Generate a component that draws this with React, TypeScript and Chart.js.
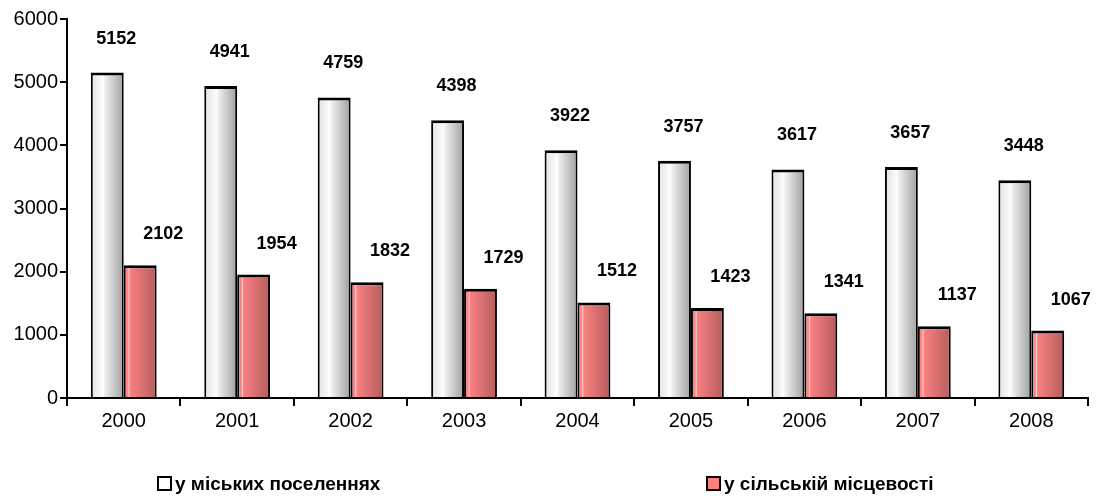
import React, { useEffect, useRef } from "react";
import { Chart, registerables } from "chart.js";

Chart.register(...registerables);

const years = ["2000", "2001", "2002", "2003", "2004", "2005", "2006", "2007", "2008"];
const urban = [5152, 4941, 4759, 4398, 3922, 3757, 3617, 3657, 3448];
const rural = [2102, 1954, 1832, 1729, 1512, 1423, 1341, 1137, 1067];
const seriesNames = ["у міських поселеннях", "у сільській місцевості"];
const yTicks = [0, 1000, 2000, 3000, 4000, 5000, 6000];

const CAT_PCT = 0.58;
const FONT = "'Liberation Sans', Arial, sans-serif";

const whiteStops: [number, string][] = [
  [0, "#e2e2e2"], [0.3, "#f7f7f7"], [0.36, "#ffffff"], [0.42, "#f0f0f0"], [1, "#9e9e9e"],
];
const redStops: [number, string][] = [
  [0, "#ff7f7f"], [0.13, "#ff8686"], [0.16, "#ffd4d4"], [0.19, "#fa8080"], [1, "#b35d5d"],
];

function makeFill(stops: [number, string][], side: number, base: string) {
  return (ctx: any) => {
    const chart = ctx.chart;
    const xs = chart.scales?.x;
    if (!xs || ctx.dataIndex === undefined || !chart.chartArea) return base;
    const catW = xs.width / years.length;
    const barW = (catW * CAT_PCT) / 2;
    const c = xs.getPixelForValue(ctx.dataIndex);
    const left = side === 0 ? c - barW : c;
    const g = chart.ctx.createLinearGradient(left, 0, left + barW, 0);
    stops.forEach(([o, col]) => g.addColorStop(o, col));
    return g;
  };
}

const labelPlugin = {
  id: "valueLabels",
  afterDatasetsDraw(chart: any) {
    const ctx = chart.ctx;
    ctx.save();
    ctx.font = `bold 18px ${FONT}`;
    ctx.fillStyle = "#000";
    ctx.textAlign = "center";
    ctx.textBaseline = "middle";
    chart.data.datasets.forEach((ds: any, di: number) => {
      const meta = chart.getDatasetMeta(di);
      meta.data.forEach((el: any, i: number) => {
        const dx = di === 0 ? 9 : 23;
        const dy = di === 0 ? 34 : 31;
        ctx.fillText(String(ds.data[i]), el.x + dx, el.y - dy);
      });
    });
    ctx.restore();
  },
};

export default function App() {
  const ref = useRef<HTMLCanvasElement>(null);
  useEffect(() => {
    if (!ref.current) return;
    const border = { top: 3, left: 2, right: 2, bottom: 0 };
    const chart = new Chart(ref.current, {
      type: "bar",
      data: {
        labels: years,
        datasets: [
          {
            label: seriesNames[0],
            data: urban,
            backgroundColor: makeFill(whiteStops, 0, "#ffffff"),
            borderColor: "#000",
            borderWidth: border,
            borderSkipped: false,
            categoryPercentage: CAT_PCT,
            barPercentage: 1,
          },
          {
            label: seriesNames[1],
            data: rural,
            backgroundColor: makeFill(redStops, 1, "#ff8080"),
            borderColor: "#000",
            borderWidth: border,
            borderSkipped: false,
            categoryPercentage: CAT_PCT,
            barPercentage: 1,
          },
        ] as any,
      },
      options: {
        animation: false,
        responsive: false,
        maintainAspectRatio: false,
        layout: { padding: { top: 19, right: 9, left: 0, bottom: 0 } },
        plugins: {
          legend: { display: false },
          tooltip: { enabled: false },
        },
        scales: {
          x: {
            offset: true,
            border: { color: "#000", width: 2 },
            grid: {
              display: true,
              offset: true,
              drawOnChartArea: false,
              drawTicks: true,
              tickLength: 8,
              color: "#000",
              lineWidth: 2,
            },
            ticks: {
              color: "#000",
              font: { family: FONT, size: 20 },
              padding: 3,
              maxRotation: 0,
            },
            afterFit: (s: any) => {
              s.height = 100;
            },
          },
          y: {
            min: 0,
            max: 6000,
            border: { color: "#000", width: 2 },
            grid: {
              display: true,
              drawOnChartArea: false,
              drawTicks: true,
              tickLength: 7,
              color: "#000",
              lineWidth: 2,
            },
            afterBuildTicks: (s: any) => {
              s.ticks = yTicks.map((v) => ({ value: v }));
            },
            ticks: {
              color: "#000",
              font: { family: FONT, size: 20 },
              padding: 2,
              callback: (v: any) => String(v),
            },
            afterFit: (s: any) => {
              s.width = 67;
            },
          },
        },
      },
      plugins: [labelPlugin],
    });
    return () => chart.destroy();
  }, []);

  const box = (bg: string) => ({
    display: "inline-block",
    width: 11,
    height: 11,
    border: "2px solid #000",
    background: bg,
    marginRight: 3,
    verticalAlign: "middle",
    position: "relative" as const,
    top: -1,
  });

  return (
    <div style={{ position: "fixed", left: 0, top: 0, width: 1097, height: 498, background: "#fff" }}>
      <canvas ref={ref} width={1097} height={498} style={{ display: "block" }} />
      <div
        style={{
          position: "absolute",
          top: 472,
          left: 0,
          width: 1097,
          fontFamily: FONT,
          fontWeight: "bold",
          fontSize: 19,
          color: "#000",
          lineHeight: "24px",
          whiteSpace: "nowrap",
        }}
      >
        <span style={{ position: "absolute", left: 157 }}>
          <span style={box("#ffffff")} />
          {seriesNames[0]}
        </span>
        <span style={{ position: "absolute", left: 706 }}>
          <span style={box("#ff8080")} />
          {seriesNames[1]}
        </span>
      </div>
    </div>
  );
}
